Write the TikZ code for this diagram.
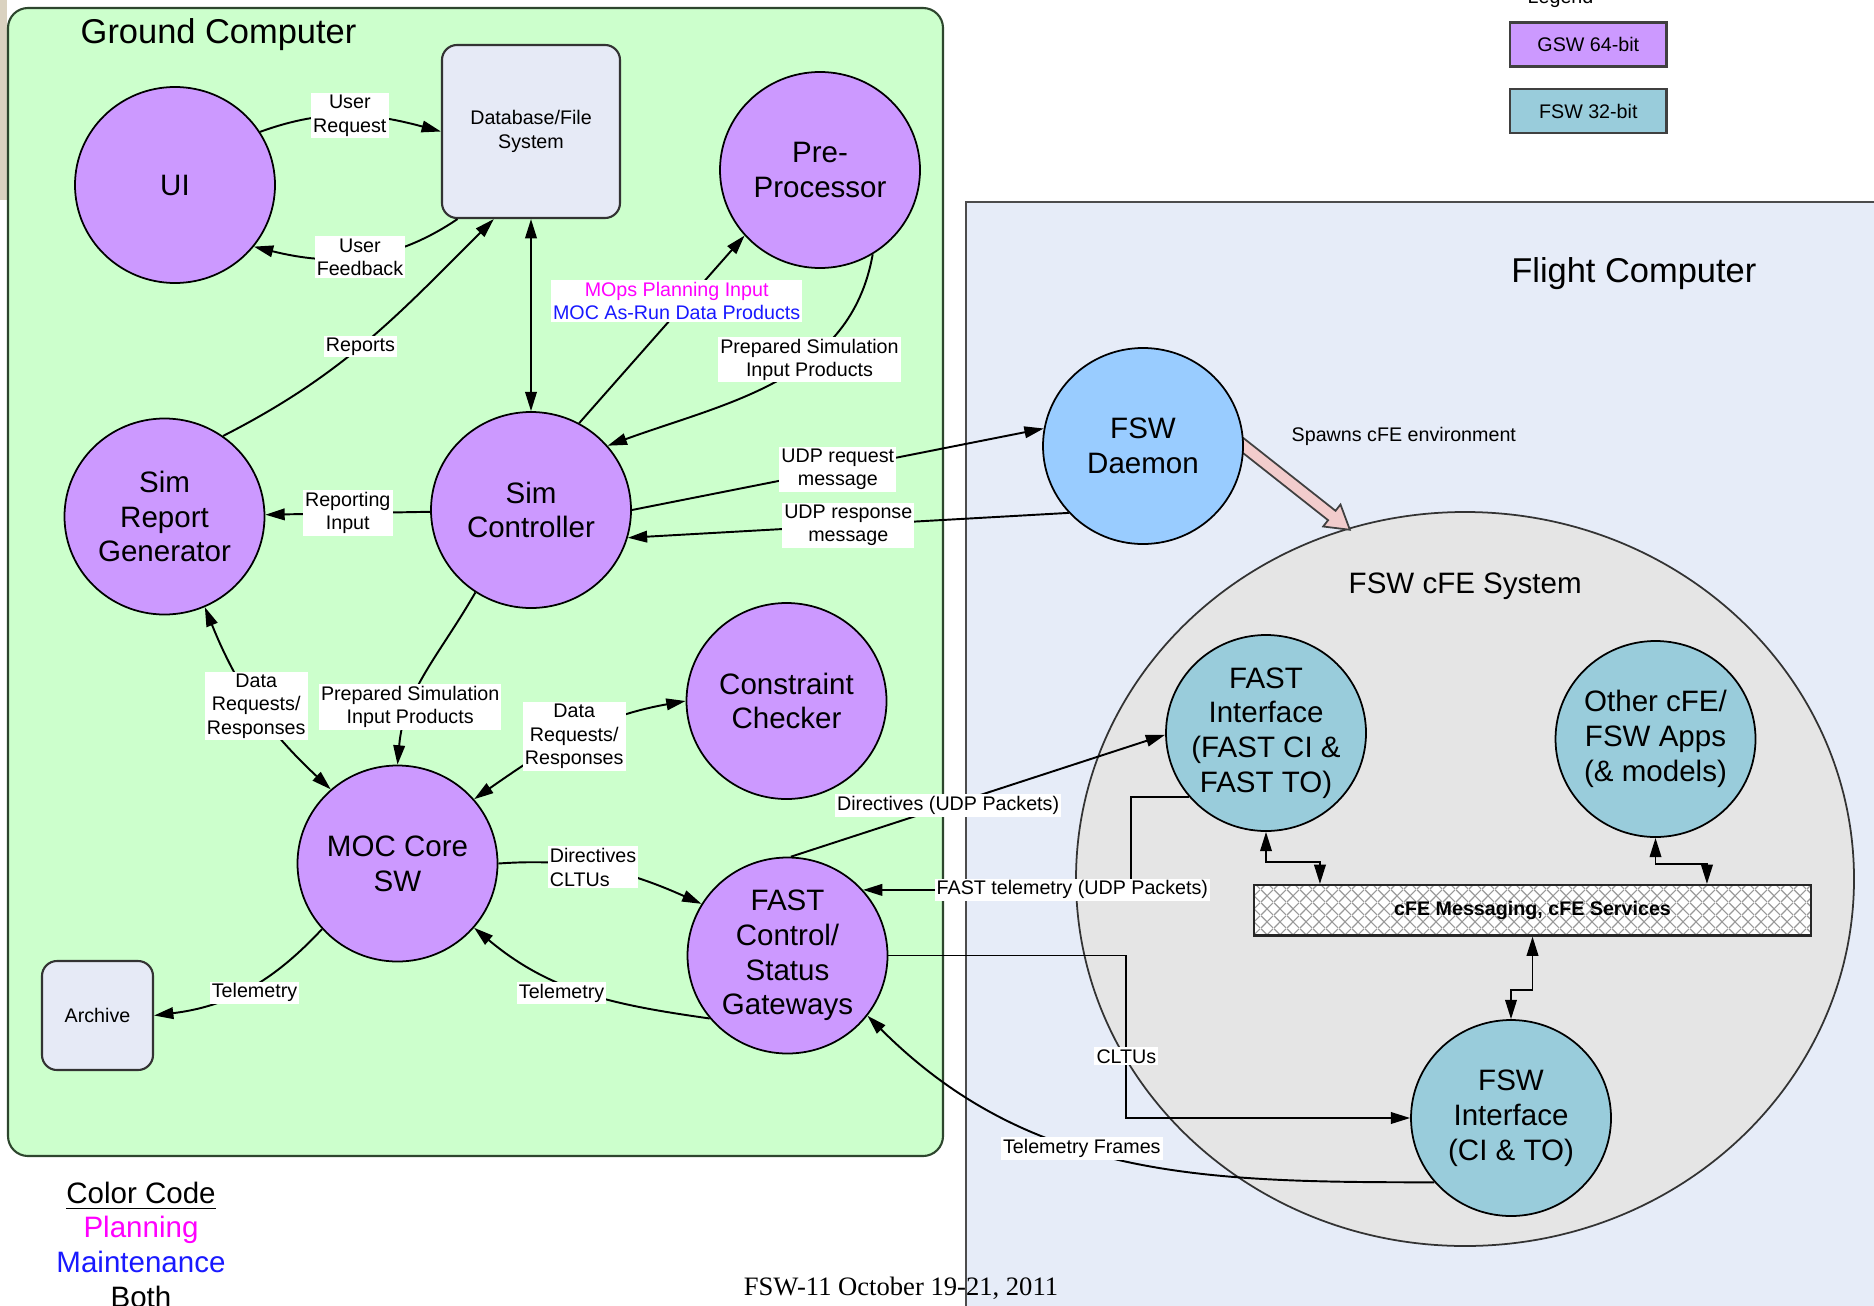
\documentclass[tikz,border=0pt]{standalone}
\usepackage{fontspec}
\setmainfont{Liberation Sans}
\newfontfamily\slidefont{Liberation Serif}
\usepackage{tikz}
\usetikzlibrary{arrows.meta, shapes.geometric, positioning, patterns.meta, calc}
\usepackage{xcolor}
\definecolor{gndgreen}{RGB}{204,255,204}
\definecolor{fltblue}{RGB}{230,236,248}
\definecolor{storefill}{RGB}{230,234,246}
\definecolor{gswpurple}{RGB}{204,153,255}
\definecolor{fswteal}{RGB}{153,204,219}
\definecolor{daemonblue}{RGB}{153,204,255}
\definecolor{cfegrey}{RGB}{229,229,229}
\definecolor{spawnpink}{RGB}{242,204,204}
\definecolor{planmagenta}{RGB}{255,0,255}
\definecolor{maintblue}{RGB}{25,25,255}
\definecolor{edgegreen}{RGB}{45,70,45}
\definecolor{pagetan}{RGB}{218,210,192}
\newcommand{\bubfont}{\fontsize{8.4}{9.9}\selectfont}
\newcommand{\lblfont}{\fontsize{5.6}{6.6}\selectfont}
\newcommand{\ttlfont}{\fontsize{9.8}{11.5}\selectfont}
\tikzdeclarepattern{
  name=busgrid,
  type=uncolored,
  bounding box={(0,0) and (3.7pt,3.7pt)},
  tile size={(3.7pt,3.7pt)},
  code={
    \draw[line width=0.35pt] (0,0) -- (3.7pt,3.7pt);
    \draw[line width=0.35pt] (0,3.7pt) -- (3.7pt,0);
  }
}

\begin{document}
\begin{tikzpicture}[
    bubble/.style={ellipse, draw=black, line width=0.5pt, fill=gswpurple,
                   minimum width=2cm, minimum height=1.96cm, inner sep=-3pt,
                   align=center, font=\bubfont},
    fswbubble/.style={bubble, fill=fswteal},
    store/.style={rectangle, rounded corners=0.15cm, draw=black!80, line width=0.6pt,
                  fill=storefill, align=center, font=\lblfont},
    keybox/.style={rectangle, draw=black!75, line width=0.7pt, minimum width=1.566cm,
                   minimum height=0.44cm, font=\lblfont},
    bus/.style={rectangle, draw=black!85, line width=0.6pt, minimum width=5.57cm,
                minimum height=0.505cm, preaction={fill=white},
                pattern=busgrid, pattern color=black!40,
                font=\lblfont\bfseries},
    title/.style={anchor=base west, inner sep=0pt},
    lbl/.style={fill=white, inner sep=0.6pt, font=\lblfont, align=center},
    arrow/.style={-{Triangle[length=5.5pt,width=3.3pt]}, line width=0.55pt},
    twoway/.style={{Triangle[length=5.5pt,width=3.3pt]}-{Triangle[length=5.5pt,width=3.3pt]}, line width=0.55pt}
]
\useasboundingbox (0,0) rectangle (18.74,-13.05);
\clip (0,0) rectangle (18.74,-13.05);
\fill[pagetan] (0,0) rectangle (0.075,-2.0);

\node[draw=edgegreen, line width=0.6pt, fill=gndgreen, rounded corners=0.2cm,
      minimum width=9.35cm, minimum height=11.48cm, inner sep=0pt] (gnd) at (4.755,-5.82) {};
\node[draw=black!70, line width=0.6pt, fill=fltblue,
      minimum width=9.54cm, minimum height=11.38cm, inner sep=0pt] (flt) at (14.43,-7.71) {};
\node[title, font=\ttlfont] (gndtitle) at (0.80,-0.433) {Ground Computer};
\node[title, font=\ttlfont] (flttitle) at (15.106,-2.827) {Flight Computer};

\node[ellipse, draw=black!80, line width=0.5pt, fill=cfegrey,
      minimum width=7.78cm, minimum height=7.34cm] (cfe) at (14.65,-8.79) {};
\node[title, font=\bubfont] (cfetitle) at (13.48,-5.93) {FSW cFE System};

\coordinate (spawntail) at (12.40,-4.43);
\begin{scope}[shift={(spawntail)}, rotate=-38.3]
\draw[fill=spawnpink, draw=black!75, line width=0.5pt] (0,-0.06) -- (1.17,-0.06) -- (1.17,-0.14)
    -- (1.40,0) -- (1.17,0.14) -- (1.17,0.06) -- (0,0.06) -- cycle;
\end{scope}
\node[title, font=\lblfont] (spawnlbl) at (12.91,-4.415) {Spawns cFE environment};

\node[bubble] (ui) at (1.75,-1.85) {UI};
\node[store, minimum width=1.78cm, minimum height=1.73cm] (db) at (5.31,-1.315) {Database/File\\System};
\node[bubble] (pp) at (8.20,-1.70) {Pre-\\Processor};
\node[bubble] (srg) at (1.645,-5.165) {Sim\\Report\\Generator};
\node[bubble] (sc) at (5.31,-5.10) {Sim\\Controller};
\node[bubble] (cc) at (7.865,-7.01) {Constraint\\Checker};
\node[bubble] (moc) at (3.975,-8.635) {MOC Core\\SW};
\node[bubble] (gw) at (7.875,-9.555) {FAST\\Control/\\Status\\Gateways};
\node[store, minimum width=1.11cm, minimum height=1.09cm] (arc) at (0.975,-10.155) {Archive};
\node[bubble, fill=daemonblue] (dmn) at (11.43,-4.46) {FSW\\Daemon};
\node[fswbubble] (fi) at (12.66,-7.33) {FAST\\Interface\\(FAST CI \&\\FAST TO)};
\node[fswbubble] (oth) at (16.555,-7.39) {Other cFE/\\FSW Apps\\(\& models)};
\node[bus] (bus) at (15.325,-9.1025) {cFE Messaging, cFE Services};
\node[fswbubble] (fsi) at (15.11,-11.18) {FSW\\Interface\\(CI \& TO)};

\node[font=\lblfont, anchor=base] (legendttl) at (15.605,-0.04) {Legend};
\node[keybox, fill=gswpurple] (gswkey) at (15.883,-0.447) {GSW 64-bit};
\node[keybox, fill=fswteal, below=0.2cm of gswkey] (fswkey) {FSW 32-bit};

\node[font=\bubfont, anchor=base] (cctitle) at (1.41,-12.03) {\underline{Color Code}};
\node[font=\bubfont, anchor=base, text=planmagenta] (ccplan) at (1.41,-12.375) {Planning};
\node[font=\bubfont, anchor=base, text=maintblue] (ccmaint) at (1.41,-12.725) {Maintenance};
\node[font=\bubfont, anchor=base] (ccboth) at (1.41,-13.075) {Both};
\node[font=\slidefont\fontsize{7.57}{9}\selectfont, anchor=base] (footer) at (9.01,-12.95) {FSW-11 October 19-21, 2011};

\draw[arrow] (ui.32) to[out=20, in=165] node[lbl] {User\\Request} (db.west);
\draw[arrow] (db.-130) to[out=-146, in=-14] node[lbl] {User\\Feedback} (ui.-38);
\draw[arrow] (srg.54) to[out=27, in=-135] node[lbl, pos=0.47] {Reports} (db.-113);
\draw[twoway] (db) -- (sc);
\draw[arrow] (sc.61) -- node[lbl, pos=0.65, xshift=-0.1cm] {\textcolor{planmagenta}{MOps Planning Input}\\\textcolor{maintblue}{MOC As-Run Data Products}} (pp.-139);
\draw[arrow] (pp.-58) to[out=-100, in=20] node[lbl, pos=0.38] {Prepared Simulation\\Input Products} (sc.40);
\draw[arrow] (sc) -- node[lbl] {Reporting\\Input} (srg);
\draw[arrow] (sc.0) -- node[lbl] {UDP request\\message} (dmn.170);
\draw[arrow] (dmn.-138) -- node[lbl] {UDP response\\message} (sc.-16);
\draw[arrow] (sc.-124) to[out=-120, in=85] node[lbl, pos=0.7] {Prepared Simulation\\Input Products} (moc.north);
\draw[twoway] (srg.-66) to[out=-68, in=137] node[lbl] {Data\\Requests/\\Responses} (moc.132);
\draw[twoway] (cc.west) to[out=190, in=35] node[lbl] {Data\\Requests/\\Responses} (moc.40);
\draw[arrow] (moc.east) to[out=4, in=156] node[lbl, align=left, pos=0.45] {Directives\\CLTUs} (gw.149);
\draw[arrow] (gw.-141) to[out=172, in=-40] node[lbl, pos=0.6, yshift=-0.1cm] {Telemetry} (moc.-40);
\draw[arrow] (moc.-139) to[out=-133, in=7] node[lbl, pos=0.45, yshift=-0.08cm] {Telemetry} (arc.east);
\draw[arrow] (gw.88) -- node[lbl, pos=0.42] {Directives (UDP Packets)} (fi.181);
\draw[arrow] (fi.-140) -- ++(-0.58,0) |- node[lbl, pos=0.61] {FAST telemetry (UDP Packets)} (gw.41);
\draw[arrow] (gw.east) -- ++(2.38,0) |- node[lbl, pos=0.31] {CLTUs} (fsi.west);
\draw[arrow] (fsi.-140) to[out=180, in=-45] node[lbl, pos=0.58] {Telemetry Frames} (gw.-37);
\draw[twoway] (fi.south) -- ++(0,-0.30) -| ($(bus.north west)+(0.67,0)$);
\draw[twoway] (oth.south) -- ++(0,-0.26) -| ($(bus.north west)+(4.54,0)$);
\draw[twoway] (bus.south) -- ++(0,-0.53) -| (fsi.north);
\end{tikzpicture}
\end{document}
